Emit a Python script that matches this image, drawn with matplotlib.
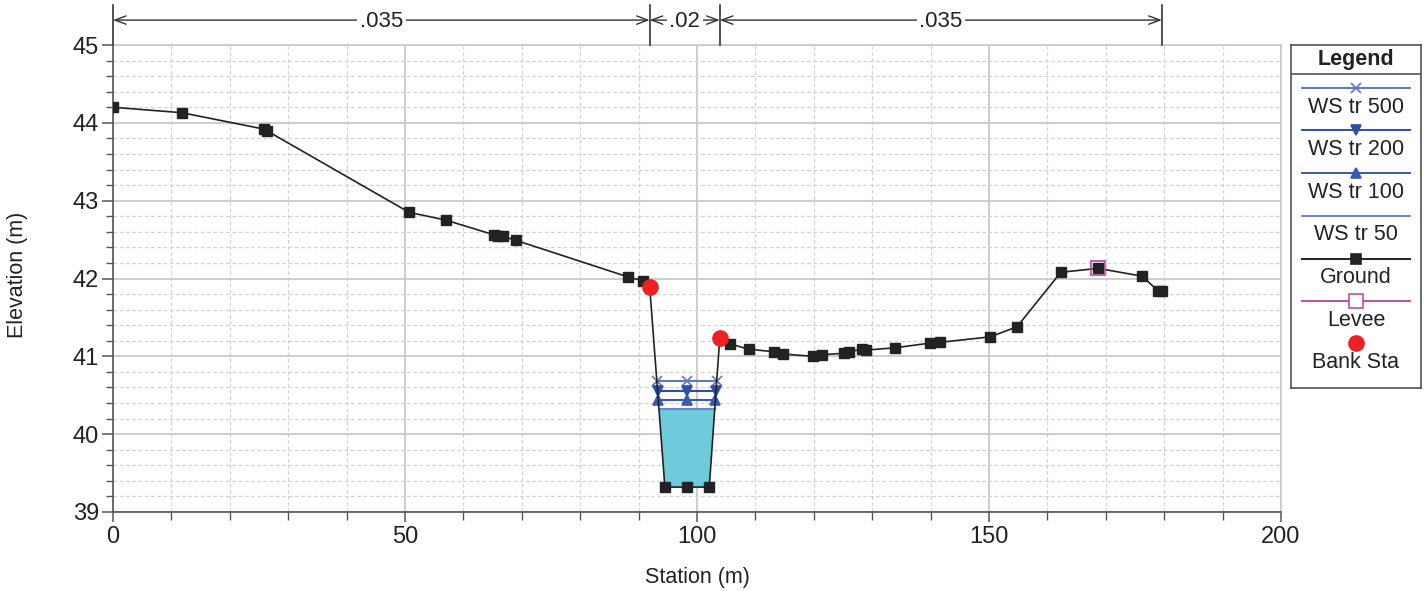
import numpy as np
import matplotlib
matplotlib.use("Agg")
import matplotlib.pyplot as plt
from matplotlib.ticker import MultipleLocator

plt.rcParams['font.family'] = ['Liberation Sans', 'DejaVu Sans']

# ---------------- data ----------------
ground_sta = [0, 11.8, 25.8, 26.3, 50.7, 57.0, 65.3, 66.0, 66.8, 69.0, 88.2, 90.8,
              91.9, 94.5, 98.3, 102.1, 103.9, 105.7, 108.9, 113.2, 114.7, 119.9,
              121.4, 125.2, 126.0, 128.3, 129.0, 133.9, 139.9, 141.6, 150.2, 154.8,
              162.3, 168.7, 176.2, 179.0, 179.6]
ground_elev = [44.20, 44.13, 43.92, 43.90, 42.85, 42.75, 42.56, 42.55, 42.54, 42.49,
               42.02, 41.97, 41.89, 39.32, 39.32, 39.32, 41.24, 41.16, 41.09, 41.06,
               41.03, 41.00, 41.02, 41.04, 41.06, 41.09, 41.08, 41.11, 41.17, 41.18,
               41.25, 41.38, 42.08, 42.13, 42.03, 41.84, 41.84]
bank_sta = [91.9, 103.9]
bank_elev = [41.89, 41.24]
levee_sta = [168.7]
levee_elev = [42.13]
ws_names = ["WS tr 500", "WS tr 200", "WS tr 100", "WS tr 50"]
ws_elev = [40.68, 40.55, 40.44, 40.32]
n_bounds = [0, 91.9, 103.9, 179.6]
n_values = [".035", ".02", ".035"]

# ---------------- styles ----------------
ws_colors = ["#6077c4", "#2f4fa6", "#3a59b0", "#6a86cc"]
ws_markers = ["x", "v", "^", None]
fill_color = "#6dcbdb"
ground_color = "#222222"
levee_color = "#c050a8"
bank_color = "#ee2024"
grid_major = "#c9c9c9"
grid_minor = "#d2d2d2"

W, H = 1428, 591
fig = plt.figure(figsize=(W / 100, H / 100), dpi=100)
ax = fig.add_axes([113 / W, (H - 512) / H, 1168 / W, 467 / H])

ax.set_xlim(0, 200)
ax.set_ylim(39, 45)
ax.xaxis.set_major_locator(MultipleLocator(50))
ax.xaxis.set_minor_locator(MultipleLocator(10))
ax.yaxis.set_major_locator(MultipleLocator(1))
ax.yaxis.set_minor_locator(MultipleLocator(0.2))
ax.grid(which='major', color=grid_major, lw=1.3, ls='-', zorder=0)
ax.grid(which='minor', color=grid_minor, lw=0.9, ls=(0, (3, 2)), zorder=0)
ax.set_axisbelow(True)

for s in ['top', 'right']:
    ax.spines[s].set_color(grid_major)
    ax.spines[s].set_linewidth(1.2)
for s in ['left', 'bottom']:
    ax.spines[s].set_color('#555555')
    ax.spines[s].set_linewidth(1.2)

ax.tick_params(axis='x', which='major', direction='out', length=7, width=1.1,
               color='#555555', labelsize=17, pad=3, labelcolor='#222222')
ax.tick_params(axis='x', which='minor', direction='out', length=6, width=1.0,
               color='#555555')
ax.tick_params(axis='y', which='major', direction='out', length=8, width=1.1,
               color='#555555', labelsize=17, pad=2, labelcolor='#222222')
ax.tick_params(axis='y', which='minor', direction='out', length=5, width=1.0,
               color='#555555')

gs = np.array(ground_sta)
ge = np.array(ground_elev)


def crossings(elev):
    i_lb = ground_sta.index(bank_sta[0])
    i_rb = ground_sta.index(bank_sta[1])
    xl = np.interp(elev, ge[i_lb:i_lb + 2][::-1], gs[i_lb:i_lb + 2][::-1])
    xr = np.interp(elev, ge[i_rb - 1:i_rb + 1], gs[i_rb - 1:i_rb + 1])
    return xl, xr


# water fill for WS 50
xl50, xr50 = crossings(ws_elev[3])
inside = (gs > xl50) & (gs < xr50)
poly_x = [xl50] + list(gs[inside]) + [xr50]
poly_y = [ws_elev[3]] + list(ge[inside]) + [ws_elev[3]]
ax.fill(poly_x, poly_y, color=fill_color, zorder=2, lw=0)

for name, el, c, m in zip(ws_names, ws_elev, ws_colors, ws_markers):
    xl, xr = crossings(el)
    ax.plot([xl, xr], [el, el], color=c, lw=1.5, zorder=3)
    if m is not None:
        ax.plot([xl, (xl + xr) / 2, xr], [el] * 3, ls='none', marker=m,
                color=c, ms=6.5 if m != 'x' else 7, mew=1.2, zorder=4)

ax.plot(ground_sta, ground_elev, color=ground_color, lw=1.2, marker='s',
        ms=6.5, zorder=5)
ax.plot(levee_sta, levee_elev, ls='none', marker='s', ms=10, mfc='none',
        mec=levee_color, mew=1.3, zorder=6)
ax.plot(bank_sta, bank_elev, ls='none', marker='o', ms=11, color=bank_color,
        zorder=7)

# Manning's n annotations
ytop = 45.32
for b in n_bounds:
    ax.plot([b, b], [45.0, 45.51], color='#222222', lw=1.1, clip_on=False, zorder=8)
for a, b, lab in zip(n_bounds[:-1], n_bounds[1:], n_values):
    ax.annotate('', xy=(a, ytop), xytext=(b, ytop), xycoords='data',
                arrowprops=dict(arrowstyle='<->,head_length=0.8,head_width=0.3',
                                color='#333333', lw=1.0, shrinkA=0, shrinkB=0),
                annotation_clip=False)
    ax.text((a + b) / 2, ytop - 0.02, lab, ha='center', va='center', fontsize=16,
            color='#222222', clip_on=False,
            bbox=dict(boxstyle='square,pad=0.12', fc='white', ec='none'), zorder=9)

fig.text(697 / W, 1 - 577 / H, "Station (m)", ha='center', va='center',
         fontsize=15.5, color='#222222')
fig.text(18 / W, 1 - 275 / H, "Elevation (m)", ha='center', va='center',
         fontsize=15.5, color='#222222', rotation=90)

# ---------------- legend ----------------
lx0, ly0, lw_, lh_ = 1291, 45, 130, 343
lax = fig.add_axes([lx0 / W, (H - ly0 - lh_) / H, lw_ / W, lh_ / H])
lax.set_xlim(0, lw_)
lax.set_ylim(lh_, 0)
lax.set_xticks([])
lax.set_yticks([])
for s in lax.spines.values():
    s.set_color('#444444')
    s.set_linewidth(1.1)
lax.text(lw_ / 2, 14.5, "Legend", ha='center', va='center', fontsize=15.5,
         fontweight='bold', color='#222222')
lax.plot([0, lw_], [29, 29], color='#444444', lw=1.1)

line_x0, line_x1 = 11, 119
entries = [
    (ws_names[0], ws_colors[0], 'x', ws_colors[0], 'full', 43, 63),
    (ws_names[1], ws_colors[1], 'v', ws_colors[1], 'full', 85, 105),
    (ws_names[2], ws_colors[2], '^', ws_colors[2], 'full', 128, 148),
    (ws_names[3], ws_colors[3], None, None, 'full', 171, 190),
    ("Ground", ground_color, 's', ground_color, 'full', 214, 233),
    ("Levee", levee_color, 's', levee_color, 'none', 256, 276),
]
for lab, c, m, mc, fs, yl, yt in entries:
    lax.plot([line_x0, line_x1], [yl, yl], color=c, lw=1.4)
    if m is not None:
        if fs == 'none':
            lax.plot([lw_ / 2], [yl], marker=m, ms=10, mfc='white', mec=mc, mew=1.2)
        else:
            lax.plot([lw_ / 2], [yl], marker=m, ms=7, color=mc, mew=1.2)
    lax.text(lw_ / 2, yt, lab, ha='center', va='center', fontsize=15.5,
             color='#222222')
lax.plot([lw_ / 2], [298], marker='o', ms=11, color=bank_color, ls='none')
lax.text(lw_ / 2, 318, "Bank Sta", ha='center', va='center', fontsize=15.5,
         color='#222222')

fig.savefig("out.png", dpi=100)
